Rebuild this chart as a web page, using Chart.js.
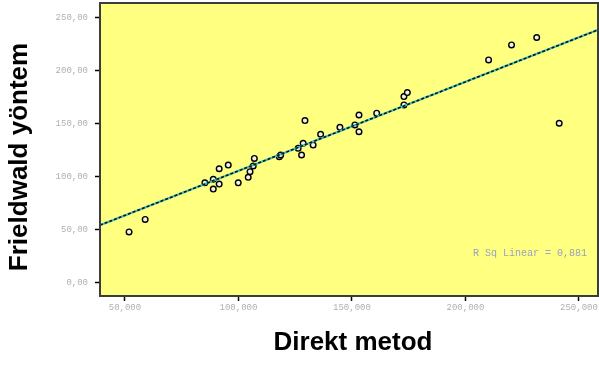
<!DOCTYPE html>
<html>
<head>
<meta charset="utf-8">
<script src="https://cdn.jsdelivr.net/npm/chart.js@4.4.0/dist/chart.umd.min.js"></script>
<style>
  html, body { margin: 0; padding: 0; background: #fff; }
</style>
</head>
<body>
<canvas id="scatterChart" width="599" height="365"></canvas>
<script>
// Values
const direktX = [51.8, 58.9, 85.2, 88.9, 91.5, 88.9, 91.5, 95.5, 99.9, 107.0,
                 106.5, 105.1, 104.3, 118.0, 118.6, 126.3, 127.8, 128.5, 132.9, 129.3,
                 136.2, 144.7, 151.3, 153.1, 153.1, 160.9, 172.9, 172.9, 174.4, 210.2,
                 220.3, 231.4, 241.3];
const friedY = [47.6, 59.4, 94.0, 97.3, 92.8, 88.1, 107.3, 110.8, 94.0, 117.1,
                109.9, 104.5, 99.2, 118.7, 120.3, 126.6, 120.3, 131.3, 129.7, 152.8,
                139.9, 146.5, 148.7, 142.3, 158.1, 159.8, 167.6, 175.5, 179.3, 210.2,
                224.4, 231.4, 150.3];

// fit line end points (as seen at the frame edges)
const fitX = [39, 258.4];
const fitY = [54, 238.6];

const xTicks = [50, 100, 150, 200, 250];
const yTicks = [0, 50, 100, 150, 200, 250];

const xTitle = 'Direkt metod';
const yTitle = 'Frieldwald yöntem';
const rsqLabel = 'R Sq Linear = 0,881';

const points = direktX.map((x, i) => ({ x: x, y: friedY[i] }));
const fitLine = fitX.map((x, i) => ({ x: x, y: fitY[i] }));

// yellow plot background, frame, titles and R-sq note
const framePlugin = {
    id: 'framePlugin',
    beforeDraw(chart) {
        const { ctx, chartArea: a } = chart;
        ctx.save();
        ctx.fillStyle = '#ffff80';
        ctx.fillRect(a.left, a.top, a.right - a.left, a.bottom - a.top);
        ctx.restore();
    },
    afterDraw(chart) {
        const { ctx, chartArea: a } = chart;
        ctx.save();
        ctx.strokeStyle = '#3c3c3c';
        ctx.lineWidth = 2;
        ctx.strokeRect(a.left, a.top, a.right - a.left, a.bottom - a.top);

        ctx.fillStyle = '#000';
        ctx.font = 'bold 26px "Liberation Sans", Arial, sans-serif';
        ctx.textAlign = 'center';
        ctx.textBaseline = 'middle';
        ctx.fillText(xTitle, 353, 343);

        ctx.translate(20, 157);
        ctx.rotate(-Math.PI / 2);
        ctx.fillText(yTitle, 0, 0);
        ctx.restore();

        ctx.save();
        ctx.font = '10px "Liberation Mono", monospace';
        ctx.fillStyle = '#9aa2c0';
        ctx.textAlign = 'left';
        ctx.textBaseline = 'middle';
        ctx.fillText(rsqLabel, 473, 253);
        ctx.restore();
    }
};

const tickFont = { family: '"Liberation Mono", monospace', size: 9 };

new Chart(document.getElementById('scatterChart').getContext('2d'), {
    type: 'scatter',
    data: {
        datasets: [
            {
                label: 'fit',
                data: fitLine,
                showLine: true,
                borderColor: '#111',
                borderWidth: 1.6,
                borderDash: [3, 2],
                pointRadius: 0,
                order: 0
            },
            {
                label: 'fit base',
                data: fitLine,
                showLine: true,
                borderColor: '#3fc4c4',
                borderWidth: 2.2,
                pointRadius: 0,
                order: 1
            },
            {
                label: 'Friedewald',
                data: points,
                pointStyle: 'circle',
                pointRadius: 2.8,
                borderColor: '#000',
                borderWidth: 1.4,
                backgroundColor: '#f2f2e4',
                order: 2
            }
        ]
    },
    options: {
        responsive: false,
        animation: false,
        layout: { autoPadding: false, padding: { top: 3, right: 1, left: 0, bottom: 0 } },
        plugins: {
            legend: { display: false },
            tooltip: { enabled: false }
        },
        scales: {
            x: {
                type: 'linear',
                min: 39,
                max: 258.4,
                afterBuildTicks: s => { s.ticks = xTicks.map(v => ({ value: v })); },
                afterFit: s => { s.height = 69; s.paddingLeft = 0; s.paddingRight = 0; },
                border: { display: false },
                grid: { drawOnChartArea: false, drawTicks: true, tickLength: 5, tickColor: '#000', tickWidth: 1.5 },
                ticks: {
                    autoSkip: false,
                    maxRotation: 0,
                    padding: 1,
                    color: '#b0b0b0',
                    font: tickFont,
                    callback: v => v.toFixed(3).replace('.', ',')
                }
            },
            y: {
                type: 'linear',
                min: -13,
                max: 264,
                afterBuildTicks: s => { s.ticks = yTicks.map(v => ({ value: v })); },
                afterFit: s => { s.width = 100; s.paddingTop = 0; s.paddingBottom = 0; },
                border: { display: false },
                grid: { drawOnChartArea: false, drawTicks: true, tickLength: 5, tickColor: '#000', tickWidth: 1.5 },
                ticks: {
                    autoSkip: false,
                    padding: 7,
                    color: '#b0b0b0',
                    font: tickFont,
                    callback: v => v.toFixed(2).replace('.', ',')
                }
            }
        }
    },
    plugins: [framePlugin]
});
</script>
</body>
</html>
